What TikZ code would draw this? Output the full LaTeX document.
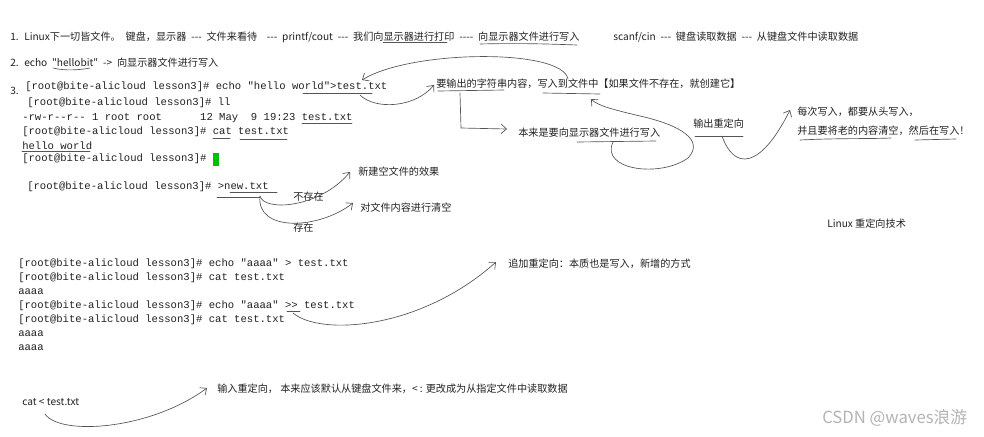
\documentclass[tikz,border=0pt]{standalone}
\usepackage{fontspec}
\usetikzlibrary{arrows.meta}
\newfontfamily\cjk{Noto Sans CJK SC}
\newfontfamily\mono{Liberation Mono}
\newcommand\wsp{\spaceskip=3.6pt\relax}
\definecolor{txt}{HTML}{222222}
\definecolor{inkc}{HTML}{555555}
\definecolor{cursor}{HTML}{00C000}
\definecolor{wmc}{HTML}{B4B4B4}
\tikzset{
  cn/.style={font=\cjk\fontsize{7.6}{9}\selectfont, inner sep=0pt, anchor=west, text=txt},
  cnw/.style={cn, font={\cjk\fontsize{7.6}{9}\selectfont\wsp}},
  tm/.style={font=\mono\fontsize{7.94}{9}\selectfont, inner sep=0pt, anchor=west, text=txt},
  ink/.style={draw=inkc, line width=0.5pt, line cap=round},
  arr/.style={ink, -{Straight Barb[length=4pt,width=7pt]}},
}
\begin{document}
\begin{tikzpicture}[x=0.75pt,y=-0.75pt]
\useasboundingbox[fill=white] (0,0) rectangle (984,436);

% ---- header lines
\node[cnw] (l1a) at (10,37) {1. Linux下一切皆文件。 键盘，显示器 --- 文件来看待\ \ --- printf/cout --- 我们向显示器进行打印 ---- 向显示器文件进行写入};
\node[cnw] (l1b) at (613,37) {scanf/cin --- 键盘读取数据 --- 从键盘文件中读取数据};
\node[cnw] (l2) at (10,63) {2. echo "hellobit" -> 向显示器文件进行写入};
\node[cn] (n3) at (10,91) {3.};

% ---- terminal block 1
\node[tm] (t1) at (25,87) {[root@bite-alicloud lesson3]\# echo "hello world">test.txt};
\node[tm] (t2) at (27,103) {[root@bite-alicloud lesson3]\# ll};
\node[tm] (t3) at (22,118) {-rw-r--r-- 1 root root\ \ \ \ \ \ 12 May\ \ 9 19:23 test.txt};
\node[tm] (t4) at (22,132) {[root@bite-alicloud lesson3]\# cat test.txt};
\node[tm] (t5) at (22,146) {hello world};
\node[tm] (t6) at (22,159) {[root@bite-alicloud lesson3]\#};
\node[fill=cursor, minimum width=4.5pt, minimum height=9.5pt, inner sep=0pt] (cur) at (216,159.5) {};
\node[tm] (t7) at (27,187) {[root@bite-alicloud lesson3]\# >new.txt};

% ---- terminal block 2
\node[tm] (b1) at (18,264) {[root@bite-alicloud lesson3]\# echo "aaaa" > test.txt};
\node[tm] (b2) at (18,278) {[root@bite-alicloud lesson3]\# cat test.txt};
\node[tm] (b3) at (18,292) {aaaa};
\node[tm] (b4) at (18,306) {[root@bite-alicloud lesson3]\# echo "aaaa" >> test.txt};
\node[tm] (b5) at (18,320) {[root@bite-alicloud lesson3]\# cat test.txt};
\node[tm] (b6) at (18,334) {aaaa};
\node[tm] (b7) at (18,348) {aaaa};

% ---- annotations
\node[cn] (lab1) at (436,84) {要输出的字符串内容，写入到文件中【如果文件不存在，就创建它】};
\node[cn] (lab2) at (518,133) {本来是要向显示器文件进行写入};
\node[cn] (lab3) at (693,124) {输出重定向};
\node[cn] (lab4) at (797,112) {每次写入，都要从头写入，};
\node[cn] (lab5) at (797,131) {并且要将老的内容清空，然后在写入！};
\node[cn] (lab6) at (358,172) {新建空文件的效果};
\node[cn] (lab7) at (360,208) {对文件内容进行清空};
\node[cn] (lab8) at (293,197) {不存在};
\node[cn] (lab9) at (293,228) {存在};
\node[cn] (lab10) at (508,264) {追加重定向：本质也是写入，新增的方式};
\node[cn] (lab11) at (22,402) {cat < test.txt};
\node[cn] (lab12) at (217,389) {输入重定向， 本来应该默认从键盘文件来，< : 更改成为从指定文件中读取数据};
\node[cn] (lab13) at (827,224) {Linux 重定向技术};
\node[font=\cjk\fontsize{12.5}{14}\selectfont, text=wmc, inner sep=0pt, anchor=west] (wm) at (822,418) {CSDN @waves浪游};

% ---- underlines
\draw[ink] (383,42) -- (447,42);
\draw[ink] (480,44) .. controls (520,43) and (550,44) .. (577,45);
\draw[ink] (53,68) .. controls (65,71) and (80,70) .. (90,68);
\draw[ink] (303,93) -- (372,93);
\draw[ink] (302,123) -- (352,123);
\draw[ink] (213,138) -- (230,138);
\draw[ink] (240,139) -- (287,139);
\draw[ink] (22,151) -- (90,151);
\draw[ink] (230,192) -- (277,192);
\draw[ink] (217,197) -- (260,197);
\draw[ink] (438,91) -- (504,90);
\draw[ink] (543,93) -- (600,94);
\draw[ink] (577,142) -- (656,141);
\draw[ink] (695,136) -- (743,136);
\draw[ink] (800,140) .. controls (840,138) and (870,139) .. (891,138);
\draw[ink] (915,140) -- (956,139);
\draw[ink] (287,311) -- (300,311);

% ---- connector end points
\coordinate (a1s) at (568,79);
\coordinate (a1e) at (362,80);
\coordinate (a2s) at (360,95);
\coordinate (a2e) at (434,85);
\coordinate (a3s) at (460,93);
\coordinate (a3m) at (461,128);
\coordinate (a3e) at (507,129);
\coordinate (a4s) at (613,142);
\coordinate (a4e) at (591,99);
\coordinate (a5s) at (722,136);
\coordinate (a5e) at (790,110);
\coordinate (a6s) at (260,196);
\coordinate (a6e) at (350,172);
\coordinate (a7e) at (353,203);
\coordinate (a8s) at (293,313);
\coordinate (a8e) at (496,262);
\coordinate (a9s) at (45,414);
\coordinate (a9e) at (207,388);

% ---- connectors
\draw[arr] (a1s) .. controls (562,48) and (410,50) .. (a1e);
\draw[arr] (a2s) .. controls (375,110) and (415,108) .. (a2e);
\draw[arr] (a3s) -- (a3m) -- (a3e);
\draw[arr] (a4s) .. controls (600,170) and (660,178) .. (688,158)
  .. controls (705,140) and (680,125) .. (640,116)
  .. controls (615,110) and (598,106) .. (a4e);
\draw[arr] (a5s) .. controls (734,170) and (760,170) .. (a5e);
\draw[arr] (a6s) .. controls (264,212) and (320,208) .. (a6e);
\draw[arr] (a6s) .. controls (256,232) and (318,230) .. (a7e);
\draw[arr] (a8s) .. controls (320,336) and (420,330) .. (a8e);
\draw[arr] (a9s) .. controls (60,436) and (150,430) .. (a9e);
\end{tikzpicture}
\end{document}
